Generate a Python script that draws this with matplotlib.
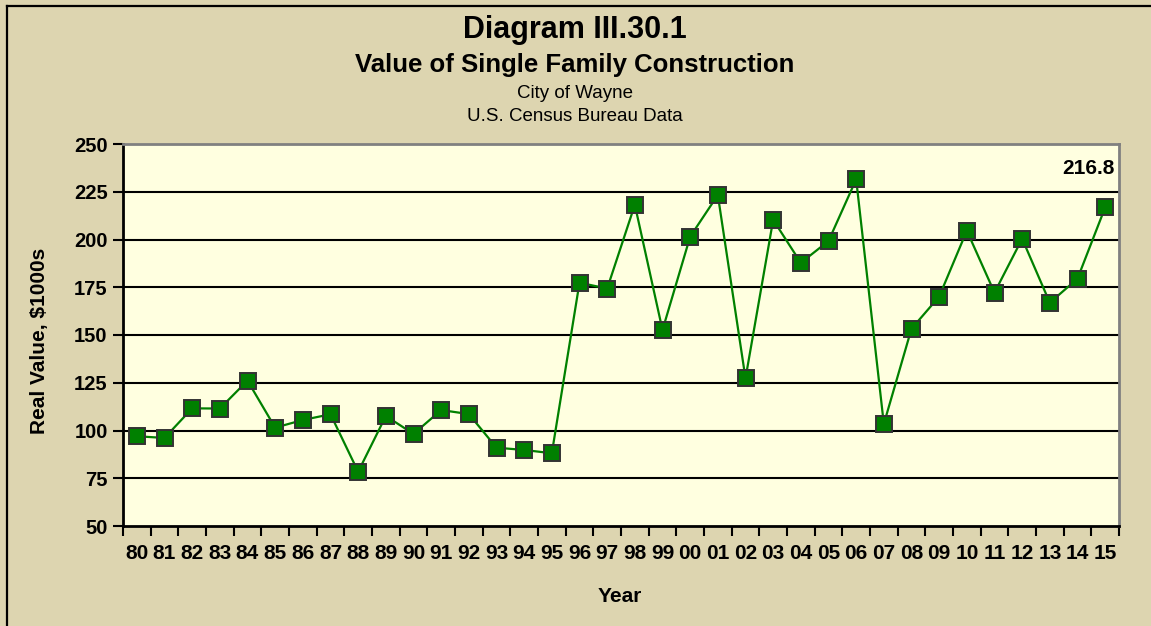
import matplotlib
matplotlib.use("Agg")
import matplotlib.pyplot as plt
from matplotlib.lines import Line2D

years = ["80", "81", "82", "83", "84", "85", "86", "87", "88", "89",
         "90", "91", "92", "93", "94", "95", "96", "97", "98", "99",
         "00", "01", "02", "03", "04", "05", "06", "07", "08", "09",
         "10", "11", "12", "13", "14", "15"]
values = [97.0, 96.1, 111.6, 111.5, 126.1, 101.5, 105.5, 108.5, 78.4, 107.6,
          98.2, 110.7, 108.6, 91.0, 89.8, 88.1, 177.4, 174.3, 218.2, 152.6,
          201.5, 223.3, 127.3, 210.3, 187.8, 199.2, 231.5, 103.4, 153.3, 170.1,
          204.6, 172.2, 200.4, 166.9, 179.5, 216.8]
yticks = [50, 75, 100, 125, 150, 175, 200, 225, 250]
last_label = "216.8"

plt.rcParams['font.family'] = ['Liberation Sans', 'DejaVu Sans']

W, H = 1151, 626
fig = plt.figure(figsize=(W / 100, H / 100), dpi=100)
bg = '#DDD5B0'
fig.patch.set_facecolor(bg)

# figure border (left and top)
fig.add_artist(Line2D([6.5 / W, 6.5 / W], [0, 1 - 5.5 / H], transform=fig.transFigure,
                      color='black', lw=1.6))
fig.add_artist(Line2D([6.5 / W, 1], [1 - 5.5 / H, 1 - 5.5 / H], transform=fig.transFigure,
                      color='black', lw=1.6))

left, right, top, bottom = 123, 1119, 144, 526
ax = fig.add_axes([left / W, 1 - bottom / H, (right - left) / W, (bottom - top) / H])
ax.set_facecolor('#FFFFE0')

x = list(range(len(years)))
ax.plot(x, values, color='#008000', lw=1.6, marker='s', markersize=11.5,
        markerfacecolor='#008000', markeredgecolor='#333333', markeredgewidth=1.4,
        zorder=3, clip_on=False)

ax.set_xlim(-0.5, len(years) - 0.5)
ax.set_ylim(50, 250)
ax.set_yticks(yticks)
ax.set_yticklabels([str(v) for v in yticks], fontsize=14.5, fontweight='bold')
for v in yticks[1:-1]:
    ax.axhline(v, color='black', lw=1.5, zorder=1)

ax.set_xticks(x)
ax.set_xticklabels(years, fontsize=15, fontweight='bold')
ax.set_xticks([i - 0.5 for i in range(len(years) + 1)], minor=True)
ax.tick_params(axis='x', which='major', length=0, pad=13)
ax.tick_params(axis='x', which='minor', length=7, width=1.5, direction='out', color='black')
ax.tick_params(axis='y', length=7, width=1.5, direction='out', pad=4)

for s in ['left', 'bottom']:
    ax.spines[s].set_color('black')
    ax.spines[s].set_linewidth(2)
for s in ['top', 'right']:
    ax.spines[s].set_color('#808080')
    ax.spines[s].set_linewidth(2)

# value label of last point, placed in the top-right corner of the plot area
ax.text(0.996, 0.935, last_label, ha='right', va='center',
        fontsize=15, fontweight='bold', transform=ax.transAxes)

fig.text(40 / W, 1 - 341 / H, "Real Value, $1000s", rotation=90, ha='center', va='center',
         fontsize=15, fontweight='bold')
fig.text(620 / W, 1 - 596 / H, "Year", ha='center', va='center',
         fontsize=15, fontweight='bold')

cx = 575 / W
fig.text(cx, 1 - 38 / H, "Diagram III.30.1", ha='center', va='baseline',
         fontsize=22, fontweight='bold')
fig.text(cx, 1 - 72 / H, "Value of Single Family Construction", ha='center', va='baseline',
         fontsize=18.5, fontweight='bold')
fig.text(cx, 1 - 98 / H, "City of Wayne", ha='center', va='baseline', fontsize=13.5)
fig.text(cx, 1 - 121 / H, "U.S. Census Bureau Data", ha='center', va='baseline', fontsize=13.5)

fig.savefig("out.png", dpi=100, facecolor=bg)
